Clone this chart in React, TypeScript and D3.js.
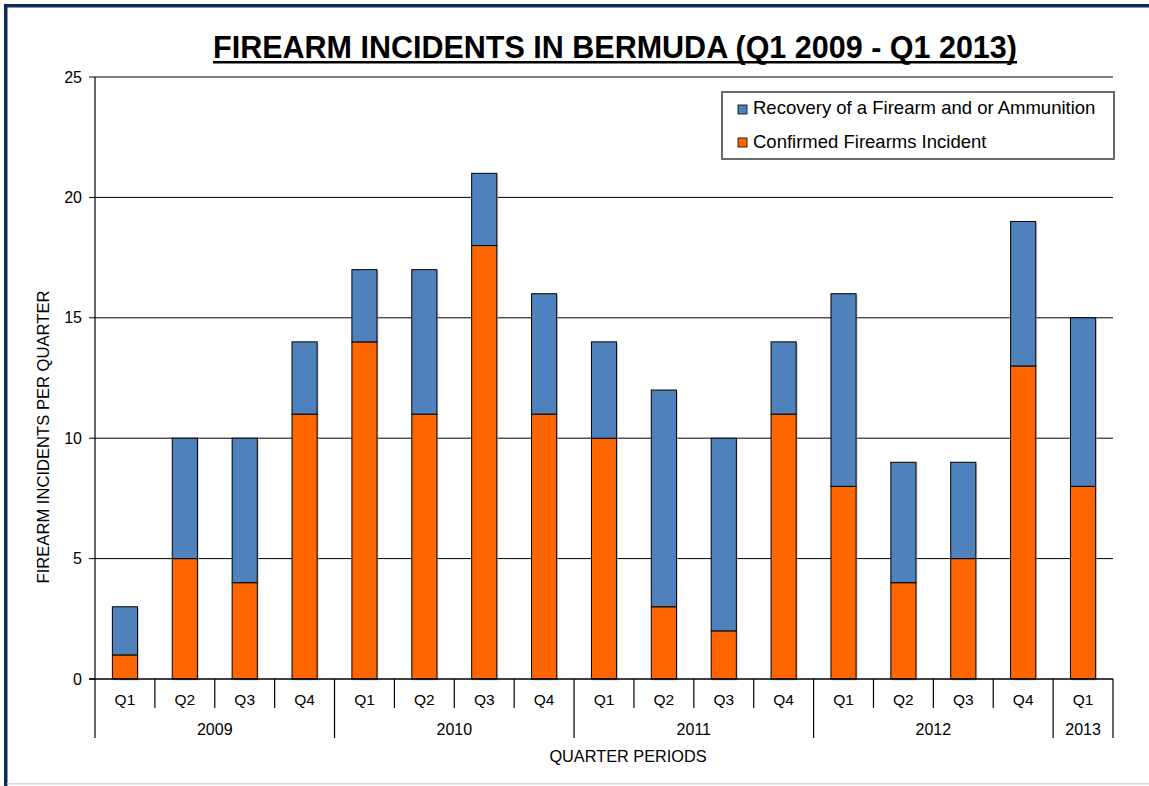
import React from "react";
import * as d3 from "d3";

const quarters = ["Q1", "Q2", "Q3", "Q4", "Q1", "Q2", "Q3", "Q4", "Q1", "Q2", "Q3", "Q4", "Q1", "Q2", "Q3", "Q4", "Q1"];
const years = ["2009", "2009", "2009", "2009", "2010", "2010", "2010", "2010", "2011", "2011", "2011", "2011", "2012", "2012", "2012", "2012", "2013"];
const confirmed = [1, 5, 4, 11, 14, 11, 18, 11, 10, 3, 2, 11, 8, 4, 5, 13, 8];
const recovery = [2, 5, 6, 3, 3, 6, 3, 5, 4, 9, 8, 3, 8, 5, 4, 6, 7];
const yTicks = [0, 5, 10, 15, 20, 25];
const seriesNames = ["Recovery of a Firearm and or Ammunition", "Confirmed Firearms Incident"];
const colors = { recovery: "#4F81BD", confirmed: "#FF6600" };

const W = 1149;
const H = 786;
const left = 95;
const right = 1113;
const top = 77;
const bottom = 679;
const font = "'Liberation Sans', Arial, sans-serif";

export default function App() {
  const idx = quarters.map((_, i) => i);
  const x = d3.scaleBand<number>().domain(idx).range([left, right]).paddingInner(0.58).paddingOuter(0.29);
  const step = x.step();
  const y = d3.scaleLinear().domain([0, 25]).range([bottom, top]);

  const groups: { year: string; start: number; end: number }[] = [];
  years.forEach((yr, i) => {
    const g = groups[groups.length - 1];
    if (g && g.year === yr) g.end = i;
    else groups.push({ year: yr, start: i, end: i });
  });
  const bx = (i: number) => left + i * step;

  return (
    <svg width={W} height={H} style={{ position: "absolute", left: 0, top: 0, background: "#fff" }} fontFamily={font}>
      <rect x={0} y={0} width={W} height={H} fill="#fff" />
      {/* frame */}
      <rect x={4} y={4} width={W - 4} height={3.5} fill="#0E2A5C" />
      <rect x={4} y={4} width={3.5} height={H - 4} fill="#0E2A5C" />
      <rect x={7} y={783} width={W - 7} height={1.5} fill="#D8D8E2" />

      {/* title */}
      <text x={615} y={58} textAnchor="middle" fontSize={30.5} fontWeight="bold" fill="#000">
        FIREARM INCIDENTS IN BERMUDA (Q1 2009 - Q1 2013)
      </text>
      <rect x={213} y={61} width={804} height={2.5} fill="#000" />

      {/* gridlines */}
      {yTicks.map((t) => (
        <g key={t}>
          {t > 0 && <line x1={left} x2={right} y1={y(t)} y2={y(t)} stroke="#000" strokeWidth={1} />}
          <line x1={left - 6} x2={left} y1={y(t)} y2={y(t)} stroke="#000" strokeWidth={1} />
          <text x={82} y={y(t) + 5.5} textAnchor="end" fontSize={16} fill="#000">{t}</text>
        </g>
      ))}

      {/* bars */}
      {idx.map((i) => {
        const x0 = x(i)!;
        const bw = x.bandwidth();
        const c = confirmed[i];
        const tot = c + recovery[i];
        return (
          <g key={i}>
            <rect x={x0 + 1.5} y={y(tot) + 1.5} width={bw} height={y(0) - y(tot)} fill="#bbb" opacity={0.6} />
            <rect x={x0} y={y(c)} width={bw} height={y(0) - y(c)} fill={colors.confirmed} stroke="#000" strokeWidth={1} />
            <rect x={x0} y={y(tot)} width={bw} height={y(c) - y(tot)} fill={colors.recovery} stroke="#000" strokeWidth={1} />
          </g>
        );
      })}

      {/* axes */}
      <line x1={left} x2={left} y1={top} y2={bottom} stroke="#000" strokeWidth={1.2} />
      <line x1={left - 6} x2={right} y1={bottom} y2={bottom} stroke="#000" strokeWidth={1.5} />
      {d3.range(quarters.length + 1).map((i) => {
        const isYear = groups.some((g) => g.start === i) || i === quarters.length;
        return <line key={i} x1={bx(i)} x2={bx(i)} y1={bottom} y2={isYear ? 738 : 708} stroke="#000" strokeWidth={1.2} />;
      })}
      {idx.map((i) => (
        <text key={i} x={bx(i) + step / 2} y={705} textAnchor="middle" fontSize={15.5} fill="#000">{quarters[i]}</text>
      ))}
      {groups.map((g) => (
        <text key={g.year} x={(bx(g.start) + bx(g.end + 1)) / 2} y={734.5} textAnchor="middle" fontSize={16} fill="#000">{g.year}</text>
      ))}
      <text x={628} y={762} textAnchor="middle" fontSize={16.3} fill="#000">QUARTER PERIODS</text>
      <text transform={`translate(48.5,437) rotate(-90)`} textAnchor="middle" fontSize={16.6} fill="#000">FIREARM INCIDENTS PER QUARTER</text>

      {/* legend */}
      <rect x={722} y={92} width={392} height={67} fill="#fff" stroke="#6b6b6b" strokeWidth={2} />
      {[colors.recovery, colors.confirmed].map((c, k) => (
        <g key={k}>
          <rect x={738} y={105 + k * 33} width={9} height={9} fill={c} stroke="#000" strokeWidth={0.8} />
          <text x={753} y={114 + k * 33.5} fontSize={18.5} fill="#000">{seriesNames[k]}</text>
        </g>
      ))}
    </svg>
  );
}
